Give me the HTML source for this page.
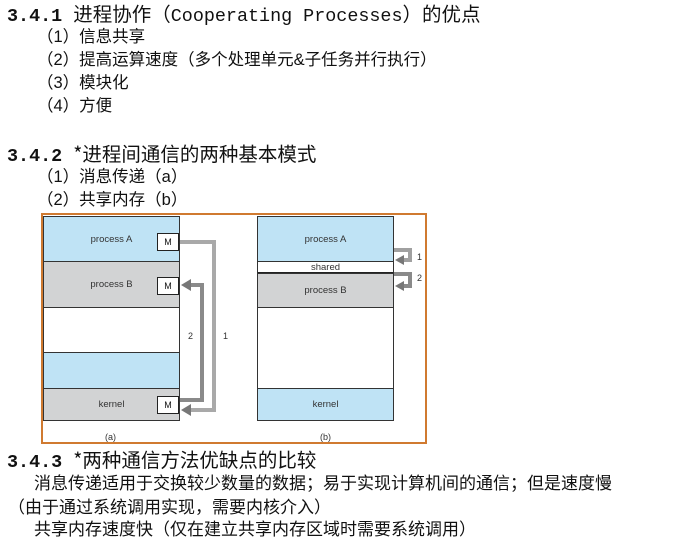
<!DOCTYPE html>
<html><head><meta charset="utf-8"><style>
body{margin:0;width:678px;height:554px;background:#fff;position:relative;overflow:hidden;font-family:"Liberation Sans","Noto Sans CJK SC",sans-serif;color:#111}
.t{position:absolute;white-space:nowrap;line-height:1}
.h{font-size:18.4px;font-family:"Liberation Mono","Noto Sans CJK SC",monospace}
.h b{font-weight:bold}
.h span{font-family:"Noto Sans CJK SC",sans-serif;font-size:19.5px}
.i{font-size:16.5px}
.p{font-size:17px}
.b{position:absolute;box-sizing:border-box;border:1px solid #333;font-size:9.5px;color:#333;display:flex;align-items:center;justify-content:center}
.m{position:absolute;width:22px;height:18px;background:#fff;border:1px solid #222;box-sizing:border-box;font-size:9px;display:flex;align-items:center;justify-content:center}
</style></head><body>
<div class="t h" style="left:7px;top:3px"><b>3.4.1</b> <span>进程协作（</span>Cooperating Processes<span>）的优点</span></div>
<div class="t i" style="left:37px;top:29px">（1）信息共享</div>
<div class="t i" style="left:37px;top:52px">（2）提高运算速度（多个处理单元&amp;子任务并行执行）</div>
<div class="t i" style="left:37px;top:75px">（3）模块化</div>
<div class="t i" style="left:37px;top:98px">（4）方便</div>
<div class="t h" style="left:7px;top:143px"><b>3.4.2</b> <span>*进程间通信的两种基本模式</span></div>
<div class="t i" style="left:37px;top:169px">（1）消息传递（a）</div>
<div class="t i" style="left:37px;top:192px">（2）共享内存（b）</div>

<div style="position:absolute;left:41px;top:213px;width:386px;height:231px;box-sizing:border-box;border:2px solid #d07a30"></div>
<div class="b" style="left:43px;top:216px;width:137px;height:46px;background:#bfe3f5">process A</div>
<div class="b" style="left:43px;top:261px;width:137px;height:47px;background:#d2d3d4">process B</div>
<div class="b" style="left:43px;top:307px;width:137px;height:46px;background:#fff"></div>
<div class="b" style="left:43px;top:352px;width:137px;height:37px;background:#bfe3f5"></div>
<div class="b" style="left:43px;top:388px;width:137px;height:33px;background:#d2d3d4">kernel</div>
<div class="m" style="left:157px;top:233px">M</div>
<div class="m" style="left:157px;top:277px">M</div>
<div class="m" style="left:157px;top:396px">M</div>

<div class="b" style="left:257px;top:216px;width:137px;height:46px;background:#bfe3f5">process A</div>
<div class="b" style="left:257px;top:261px;width:137px;height:13px;background:#fff;border-bottom:2px solid #222">shared</div>
<div class="b" style="left:257px;top:273px;width:137px;height:35px;background:#d2d3d4">process B</div>
<div class="b" style="left:257px;top:307px;width:137px;height:82px;background:#fff"></div>
<div class="b" style="left:257px;top:388px;width:137px;height:33px;background:#bfe3f5">kernel</div>

<svg style="position:absolute;left:0;top:0" width="678" height="554">
<g fill="none" stroke-width="4">
<polyline points="180,242 214,242 214,410 190,410" stroke="#a9a9a9"/>
<polyline points="180,400 202,400 202,285 190,285" stroke="#8a8a8a"/>
<polyline points="394,250 410,250 410,260 403,260" stroke="#a0a0a0"/>
<polyline points="394,274 410,274 410,286 403,286" stroke="#8a8a8a"/>
</g>
<g fill="#777">
<polygon points="181,410 191,404 191,416"/>
<polygon points="181,285 191,279 191,291"/>
<polygon points="395,260 404,255 404,265"/>
<polygon points="395,286 404,281 404,291"/>
</g>
<g font-family="Liberation Sans" font-size="9" fill="#333">
<text x="188" y="339">2</text><text x="223" y="339">1</text>
<text x="417" y="260">1</text><text x="417" y="281">2</text>
<text x="105" y="440">(a)</text><text x="320" y="440">(b)</text>
</g>
</svg>

<div class="t h" style="left:7px;top:449px"><b>3.4.3</b> <span>*两种通信方法优缺点的比较</span></div>
<div class="t p" style="left:34px;top:475px">消息传递适用于交换较少数量的数据；易于实现计算机间的通信；但是速度慢</div>
<div class="t p" style="left:8px;top:499px">（由于通过系统调用实现，需要内核介入）</div>
<div class="t p" style="left:34px;top:521px">共享内存速度快（仅在建立共享内存区域时需要系统调用）</div>
</body></html>
